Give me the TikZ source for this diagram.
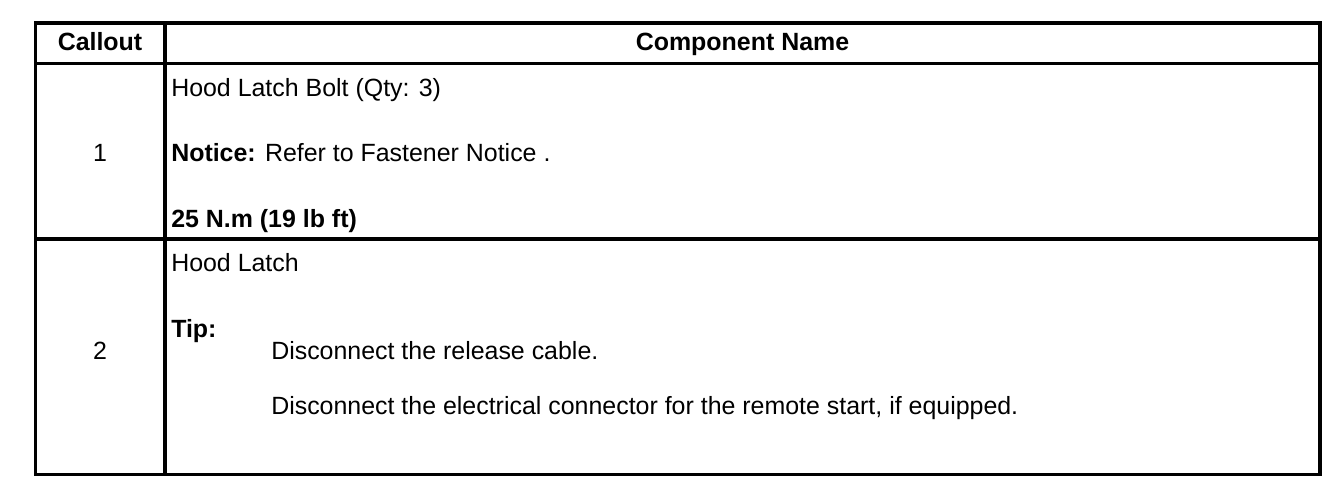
\documentclass[tikz,border=0pt]{standalone}
\usepackage{fontspec}
\setmainfont{Liberation Sans}
\begin{document}
\begin{tikzpicture}[x=0.75pt,y=-0.75pt,
  rule/.style={line width=2.7pt,line cap=rect},
  txt/.style={anchor=base west,inner sep=0pt,font=\fontsize{18.7}{22}\selectfont},
  ctxt/.style={anchor=base,inner sep=0pt,font=\fontsize{18.7}{22}\selectfont},
  hd/.style={anchor=base,inner sep=0pt,font=\fontsize{18.7}{22}\selectfont\bfseries}]
\useasboundingbox (0,0) rectangle (1344,488);
% table frame
\coordinate (tl) at (35.5,23);
\coordinate (br) at (1320,474.5);
\draw[rule] (tl) rectangle (br);
\coordinate (h1) at (35.5,63.5);
\coordinate (h2) at (1320,63.5);
\draw[rule] (h1) -- (h2);
\coordinate (r1) at (35.5,239);
\coordinate (r2) at (1320,239);
\draw[rule] (r1) -- (r2);
\coordinate (c1) at (165,23);
\coordinate (c2) at (165,474.5);
\draw[rule] (c1) -- (c2);
% header
\node[hd] (callout) at (100,50.5) {Callout};
\node[hd] (compname) at (742.5,50.5) {Component Name};
% row 1
\node[ctxt] (n1) at (100,161.7) {1};
\node[txt] (r1a) at (171,96.7) {Hood Latch Bolt (Qty: 3)};
\node[txt] (r1b) at (171,161.7) {\textbf{Notice:} Refer to Fastener Notice .};
\node[txt] (r1c) at (171,227.7) {\textbf{25 N.m (19 lb ft)}};
% row 2
\node[ctxt] (n2) at (100,359.3) {2};
\node[txt] (r2a) at (171,271.7) {Hood Latch};
\node[txt] (r2b) at (171,337.3) {\textbf{Tip:}};
\node[txt] (r2c) at (271,359.3) {Disconnect the release cable.};
\node[txt] (r2d) at (271,414.3) {Disconnect the electrical connector for the remote start, if equipped.};
\end{tikzpicture}
\end{document}
